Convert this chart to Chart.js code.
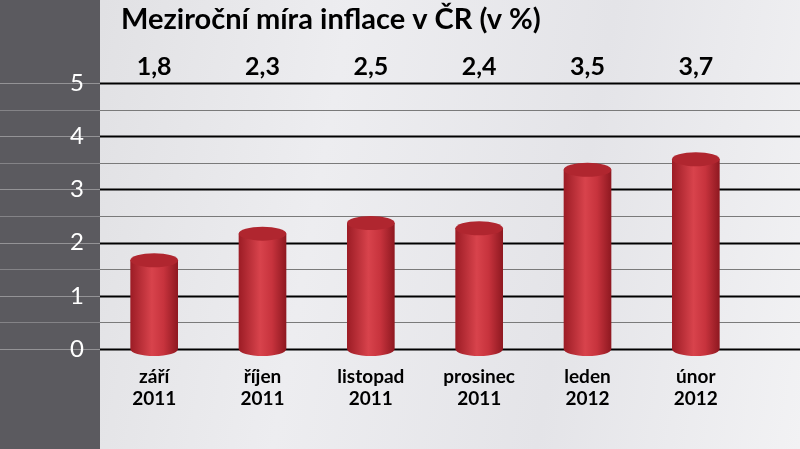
<!DOCTYPE html>
<html>
<head>
<meta charset="utf-8">
<script src="https://cdn.jsdelivr.net/npm/chart.js@4/dist/chart.umd.min.js"></script>
<style>
  html, body { margin: 0; padding: 0; }
  body {
    width: 800px; height: 449px; overflow: hidden;
    background: linear-gradient(100deg, #dcdcdf 0%, #ededf0 40%, #e4e4e8 70%, #f2f2f4 100%);
    position: relative;
  }
  #strip { position: absolute; left: 0; top: 0; width: 100px; height: 449px; background: #5b5a5f; }
  #wrap { position: absolute; left: 0; top: 0; width: 800px; height: 449px; }
</style>
</head>
<body>
<div id="strip"></div>
<div id="wrap"><canvas id="c"></canvas></div>
<script>
const categories = [["září", "2011"], ["říjen", "2011"], ["listopad", "2011"], ["prosinec", "2011"], ["leden", "2012"], ["únor", "2012"]];
const values = [1.8, 2.3, 2.5, 2.4, 3.5, 3.7];
const valueLabels = ["1,8", "2,3", "2,5", "2,4", "3,5", "3,7"];
const title = "Meziroční míra inflace v ČR (v %)";

const FONT = "Lato, 'Open Sans', sans-serif";

const decor = {
  id: "decor",
  beforeDatasetsDraw(chart) {
    const { ctx } = chart;
    const y = chart.scales.y;
    ctx.save();
    for (let v = 0; v <= 5.001; v += 0.5) {
      const py = Math.round(y.getPixelForValue(v)) + 0.5;
      const major = Math.abs(v - Math.round(v)) < 0.01;
      ctx.beginPath();
      if (major) {
        ctx.strokeStyle = "#000";
        ctx.lineWidth = 2;
        ctx.moveTo(100, py); ctx.lineTo(800, py);
        ctx.stroke();
        ctx.strokeStyle = "rgba(255,255,255,0.35)";
        ctx.lineWidth = 1;
        ctx.beginPath(); ctx.moveTo(0, py); ctx.lineTo(100, py); ctx.stroke();
      } else {
        ctx.strokeStyle = "#7a7a7a";
        ctx.lineWidth = 1;
        ctx.moveTo(100, py); ctx.lineTo(800, py);
        ctx.stroke();
        ctx.strokeStyle = "rgba(255,255,255,0.25)";
        ctx.beginPath(); ctx.moveTo(0, py); ctx.lineTo(100, py); ctx.stroke();
      }
    }
    ctx.restore();
  },
  afterDatasetsDraw(chart) {
    const { ctx } = chart;
    const meta = chart.getDatasetMeta(0);
    ctx.save();
    meta.data.forEach((bar, i) => {
      const w = bar.width, x = bar.x, top = bar.y, base = bar.base;
      const rx = w / 2, ry = 7;
      const g = ctx.createLinearGradient(x - rx, 0, x + rx, 0);
      g.addColorStop(0, "#9c1c25");
      g.addColorStop(0.45, "#d8434c");
      g.addColorStop(0.7, "#c7333d");
      g.addColorStop(1, "#8e1820");
      ctx.fillStyle = g;
      ctx.beginPath();
      ctx.moveTo(x - rx, top + ry);
      ctx.lineTo(x - rx, base);
      ctx.ellipse(x, base, rx, ry, 0, Math.PI, 0, true);
      ctx.lineTo(x + rx, top + ry);
      ctx.closePath();
      ctx.fill();
      ctx.fillStyle = "#b0262f";
      ctx.beginPath();
      ctx.ellipse(x, top + ry, rx, ry, 0, 0, Math.PI * 2);
      ctx.fill();
      ctx.fillStyle = "#000";
      ctx.font = "bold 25px " + FONT;
      ctx.textAlign = "center";
      ctx.textBaseline = "middle";
      ctx.fillText(valueLabels[i], x, 67);
    });
    ctx.font = "bold 29px " + FONT;
    ctx.textAlign = "left";
    ctx.textBaseline = "middle";
    ctx.fillStyle = "#000";
    ctx.fillText(title, 121, 20);
    ctx.restore();
  }
};

new Chart(document.getElementById("c"), {
  type: "bar",
  data: {
    labels: categories,
    datasets: [{
      data: values,
      backgroundColor: "rgba(0,0,0,0)",
      barPercentage: 0.44,
      categoryPercentage: 1
    }]
  },
  options: {
    responsive: true,
    maintainAspectRatio: false,
    animation: false,
    layout: { padding: { top: 83, right: 50, left: 0, bottom: 0 } },
    plugins: { legend: { display: false }, tooltip: { enabled: false } },
    scales: {
      x: {
        afterFit: (s) => { s.height = 100; },
        grid: { display: false },
        border: { display: false },
        ticks: {
          color: "#000",
          font: { family: FONT, size: 19, weight: "bold" },
          padding: 8,
          maxRotation: 0
        }
      },
      y: {
        min: 0, max: 5,
        afterFit: (s) => { s.width = 100; },
        grid: { display: false },
        border: { display: false },
        ticks: {
          stepSize: 1,
          color: "#fff",
          padding: 8,
          font: { family: FONT, size: 24 }
        }
      }
    }
  },
  plugins: [decor]
});
</script>
</body>
</html>
